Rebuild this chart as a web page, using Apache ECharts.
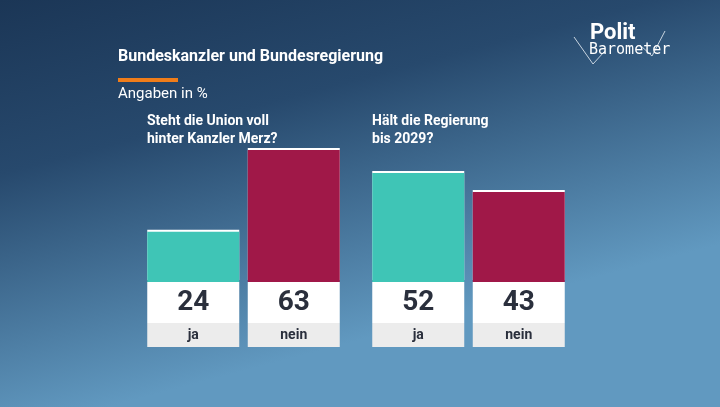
<!DOCTYPE html><html><head><meta charset="utf-8">
<script src="https://cdn.jsdelivr.net/npm/echarts@6/dist/echarts.min.js"></script>
<style>html,body{margin:0;padding:0}#c{width:720px;height:407px}</style></head><body><div id="c"></div>
<script>
const categories = ['ja', 'nein'];
const unionValues = [24, 63];
const regierungValues = [52, 43];
const questions = ['Steht die Union voll\nhinter Kanzler Merz?', 'Hält die Regierung\nbis 2029?'];
const colors = ['#3fc5b6', '#a01848'];
const chart = echarts.init(document.getElementById('c'));
function ser(i, vals) {
  return {
    type: 'bar', xAxisIndex: i, yAxisIndex: i, barWidth: 92,
    data: vals.map((v, k) => ({ value: v, itemStyle: { color: colors[k] } })),
    itemStyle: { shadowColor: '#ffffff', shadowOffsetY: -2, shadowBlur: 0 },
    label: { show: true, position: 'bottom', distance: 0, backgroundColor: '#fff', width: 92, height: 41, lineHeight: 41,
      align: 'center', color: '#2a2f3c', fontSize: 28, fontWeight: 'bold', fontFamily: 'Roboto' }
  };
}
function xa(i) {
  return { type: 'category', gridIndex: i, data: categories, axisLine: { show: false }, axisTick: { show: false },
    axisLabel: { margin: 41, backgroundColor: '#ececec', width: 92, height: 24, lineHeight: 24, align: 'center',
      color: '#2a2f3c', fontSize: 14, fontWeight: 'bold', fontFamily: 'Roboto' } };
}
function ya(i) { return { type: 'value', gridIndex: i, min: 0, max: 70, show: false }; }
chart.setOption({
  backgroundColor: { type: 'linear', x: 0, y: 0, x2: 0.15, y2: 1, colorStops: [{ offset: 0, color: '#1b3656' }, { offset: 0.4, color: '#27496d' }, { offset: 1, color: '#6199c0' }] },
  grid: [{ left: 143, width: 201, top: 135.35, bottom: 125 }, { left: 368, width: 201, top: 135.35, bottom: 125 }],
  xAxis: [xa(0), xa(1)], yAxis: [ya(0), ya(1)],
  series: [ser(0, unionValues), ser(1, regierungValues)],
  graphic: [
    { type: 'text', left: 118, top: 49, style: { text: 'Bundeskanzler und Bundesregierung', fill: '#fff', font: 'bold 16px Roboto' } },
    { type: 'rect', shape: { x: 118, y: 78, width: 60, height: 4 }, style: { fill: '#f07d1a' } },
    { type: 'text', left: 118, top: 87, style: { text: 'Angaben in %', fill: '#fff', font: '15px Roboto' } },
    { type: 'text', left: 147, top: 112, style: { text: questions[0], fill: '#fff', font: 'bold 14px Roboto', lineHeight: 18 } },
    { type: 'text', left: 372, top: 112, style: { text: questions[1], fill: '#fff', font: 'bold 14px Roboto', lineHeight: 18 } },
    { type: 'polyline', shape: { points: [[574, 37], [593, 64], [604, 52]] }, style: { stroke: '#c8d4e0', lineWidth: 1, fill: null } },
    { type: 'polyline', shape: { points: [[640, 45], [652, 56], [665, 31]] }, style: { stroke: '#c8d4e0', lineWidth: 1, fill: null } },
    { type: 'text', left: 590, top: 22, style: { text: 'Polit', fill: '#fff', font: 'bold 22px Roboto' } },
    { type: 'text', left: 589, top: 43, style: { text: 'Barometer', fill: '#fff', font: '15px "DejaVu Sans Mono"' } }
  ]
});
</script></body></html>
